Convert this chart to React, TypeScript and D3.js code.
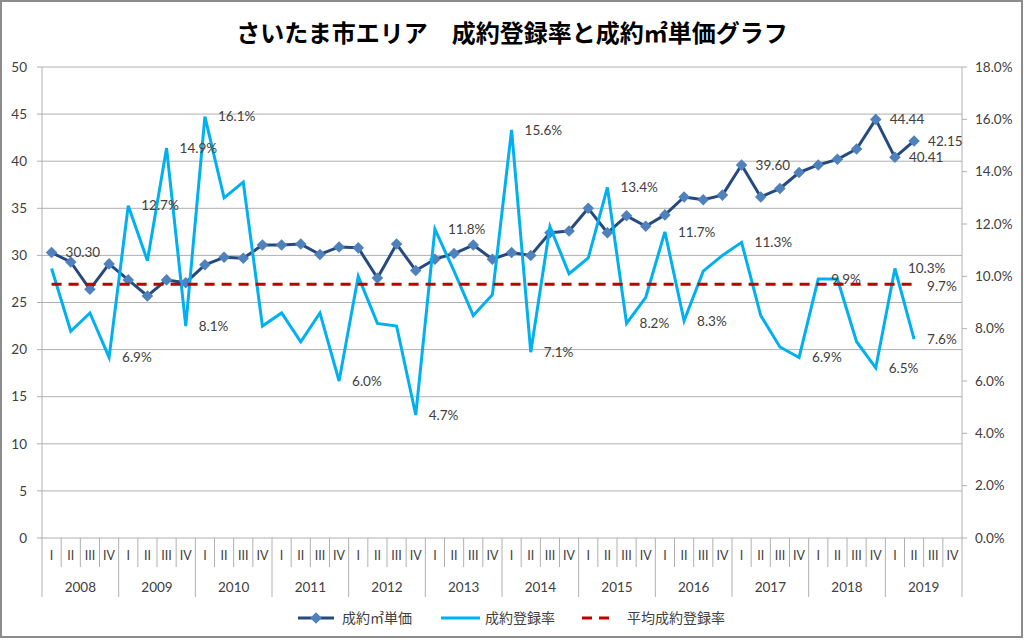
import React, { useEffect, useRef } from "react";
import * as d3 from "d3";

// quarters 2008 I .. 2019 IV
const years = ["2008", "2009", "2010", "2011", "2012", "2013", "2014", "2015", "2016", "2017", "2018", "2019"];
const quarters = ["I", "II", "III", "IV"];

// 成約㎡単価 (万円/㎡), 2008 I .. 2019 II
const unitPrice = [
  30.3, 29.3, 26.4, 29.1, 27.4, 25.7, 27.4, 27.1, 29.0, 29.8, 29.7, 31.1,
  31.1, 31.2, 30.1, 30.9, 30.8, 27.6, 31.2, 28.4, 29.6, 30.2, 31.1, 29.6,
  30.3, 30.0, 32.4, 32.6, 35.0, 32.4, 34.2, 33.1, 34.3, 36.2, 35.9, 36.4,
  39.6, 36.2, 37.1, 38.8, 39.6, 40.2, 41.3, 44.44, 40.41, 42.15,
];

// 成約登録率 (%)
const contractRate = [
  10.3, 7.9, 8.6, 6.9, 12.7, 10.6, 14.9, 8.1, 16.1, 13.0, 13.6, 8.1,
  8.6, 7.5, 8.6, 6.0, 10.0, 8.2, 8.1, 4.7, 11.8, 10.2, 8.5, 9.3,
  15.6, 7.1, 11.9, 10.1, 10.7, 13.4, 8.2, 9.2, 11.7, 8.3, 10.2, 10.8,
  11.3, 8.5, 7.3, 6.9, 9.9, 9.9, 7.5, 6.5, 10.3, 7.6,
];

// 平均成約登録率 (%)
const avgRate = 9.7;

// which points carry a data label
const priceLabelIdx = [0, 36, 43, 44, 45];
const rateLabelIdx = [3, 4, 6, 7, 8, 15, 19, 20, 24, 25, 29, 30, 32, 33, 36, 39, 40, 43, 44, 45];

const leftTicks = [0, 5, 10, 15, 20, 25, 30, 35, 40, 45, 50];
const rightTicks = [0, 2, 4, 6, 8, 10, 12, 14, 16, 18];

const W = 1024, H = 640;
const NUM = "Lato, 'Noto Sans CJK JP', sans-serif";
const JP = "'Noto Sans CJK JP', sans-serif";

export default function App() {
  const ref = useRef<SVGSVGElement | null>(null);

  useEffect(() => {
    const svg = d3.select(ref.current);
    svg.selectAll("*").remove();

    const m = { left: 42, right: 962, top: 67, bottom: 538 };
    const cats = d3.range(years.length * quarters.length);
    const x = d3.scaleBand<number>().domain(cats).range([m.left, m.right]).padding(0);
    const cx = (i: number) => (x(i) ?? 0) + x.bandwidth() / 2;
    const yL = d3.scaleLinear().domain([0, 50]).range([m.bottom, m.top]);
    const yR = d3.scaleLinear().domain([0, 18]).range([m.bottom, m.top]);

    // background + border
    svg.append("rect").attr("x", 1).attr("y", 1).attr("width", W - 3).attr("height", H - 4)
      .attr("fill", "#fff").attr("stroke", "#8c8c8c").attr("stroke-width", 2);

    // title
    svg.append("text").attr("x", 512).attr("y", 42).attr("text-anchor", "middle")
      .attr("font-family", JP).attr("font-weight", "bold").attr("font-size", 24).attr("fill", "#000")
      .text("さいたま市エリア　成約登録率と成約㎡単価グラフ");

    // gridlines + left ticks
    const g = svg.append("g");
    leftTicks.forEach((t) => {
      g.append("line").attr("x1", m.left - 5).attr("x2", m.right).attr("y1", yL(t)).attr("y2", yL(t))
        .attr("stroke", "#b0b0b0").attr("stroke-width", 1);
      g.append("text").attr("x", 27).attr("y", yL(t)).attr("dy", "0.35em").attr("text-anchor", "end")
        .attr("font-family", NUM).attr("font-size", 13.5).attr("fill", "#404040").text(String(t));
    });
    g.append("line").attr("x1", m.left).attr("x2", m.left).attr("y1", m.top).attr("y2", m.bottom)
      .attr("stroke", "#b0b0b0");

    // right axis
    g.append("line").attr("x1", m.right).attr("x2", m.right).attr("y1", m.top).attr("y2", m.bottom)
      .attr("stroke", "#b0b0b0");
    rightTicks.forEach((t) => {
      g.append("line").attr("x1", m.right).attr("x2", m.right + 5).attr("y1", yR(t)).attr("y2", yR(t))
        .attr("stroke", "#b0b0b0");
      g.append("text").attr("x", 975).attr("y", yR(t)).attr("dy", "0.35em")
        .attr("font-family", NUM).attr("font-size", 13.5).attr("fill", "#404040").text(t.toFixed(1) + "%");
    });

    // category axis (quarters + years)
    cats.forEach((i) => {
      const x0 = x(i) ?? 0;
      const isYear = i % 4 === 0;
      g.append("line").attr("x1", x0).attr("x2", x0).attr("y1", m.bottom).attr("y2", isYear ? 597 : 567)
        .attr("stroke", "#b0b0b0");
      g.append("text").attr("x", cx(i)).attr("y", 556).attr("dy", "0.35em").attr("text-anchor", "middle")
        .attr("font-family", NUM).attr("font-size", 12.5).attr("fill", "#404040").text(quarters[i % 4]);
    });
    g.append("line").attr("x1", m.right).attr("x2", m.right).attr("y1", m.bottom).attr("y2", 597)
      .attr("stroke", "#b0b0b0");
    years.forEach((yr, k) => {
      const a = x(k * 4) ?? 0;
      g.append("text").attr("x", a + x.bandwidth() * 2).attr("y", 587).attr("dy", "0.35em")
        .attr("text-anchor", "middle").attr("font-family", NUM).attr("font-size", 13.5)
        .attr("fill", "#404040").text(yr);
    });

    // price line + diamonds
    const priceLine = d3.line<number>().x((_, i) => cx(i)).y((d) => yL(d));
    svg.append("path").datum(unitPrice).attr("d", priceLine).attr("fill", "none")
      .attr("stroke", "#254A7E").attr("stroke-width", 3).attr("stroke-linejoin", "round");
    const diamond = d3.symbol().type(d3.symbolDiamond2).size(85);
    svg.append("g").selectAll("path").data(unitPrice).enter().append("path")
      .attr("d", diamond).attr("transform", (d, i) => `translate(${cx(i)},${yL(d)})`)
      .attr("fill", "#4F81BD");

    // rate line
    const rateLine = d3.line<number>().x((_, i) => cx(i)).y((d) => yR(d));
    svg.append("path").datum(contractRate).attr("d", rateLine).attr("fill", "none")
      .attr("stroke", "#00B0F0").attr("stroke-width", 3).attr("stroke-linejoin", "miter");

    // average rate (dashed)
    const avgData = contractRate.map(() => avgRate);
    svg.append("path").datum(avgData).attr("d", rateLine).attr("fill", "none")
      .attr("stroke", "#C00000").attr("stroke-width", 3).attr("stroke-dasharray", "10,7");

    // data labels
    const lab = svg.append("g").attr("font-family", NUM).attr("font-size", 13.5).attr("fill", "#404040");
    priceLabelIdx.forEach((i) => {
      lab.append("text").attr("x", cx(i) + 14).attr("y", yL(unitPrice[i])).attr("dy", "0.35em")
        .text(unitPrice[i].toFixed(2));
    });
    rateLabelIdx.forEach((i) => {
      lab.append("text").attr("x", cx(i) + 13).attr("y", yR(contractRate[i])).attr("dy", "0.35em")
        .text(contractRate[i].toFixed(1) + "%");
    });
    const last = avgData.length - 1;
    lab.append("text").attr("x", cx(last) + 13).attr("y", yR(avgRate) + 2).attr("dy", "0.35em")
      .text(avgRate.toFixed(1) + "%");

    // legend
    const lg = svg.append("g").attr("font-family", JP).attr("font-size", 14).attr("fill", "#404040");
    const ly = 618;
    lg.append("line").attr("x1", 298).attr("x2", 334).attr("y1", ly).attr("y2", ly)
      .attr("stroke", "#254A7E").attr("stroke-width", 3);
    lg.append("path").attr("d", diamond).attr("transform", `translate(316,${ly})`).attr("fill", "#4F81BD");
    lg.append("text").attr("x", 342).attr("y", ly).attr("dy", "0.35em").text("成約㎡単価");
    lg.append("line").attr("x1", 441).attr("x2", 480).attr("y1", ly).attr("y2", ly)
      .attr("stroke", "#00B0F0").attr("stroke-width", 3);
    lg.append("text").attr("x", 485).attr("y", ly).attr("dy", "0.35em").text("成約登録率");
    lg.append("line").attr("x1", 582).attr("x2", 614).attr("y1", ly).attr("y2", ly)
      .attr("stroke", "#C00000").attr("stroke-width", 3).attr("stroke-dasharray", "10,7");
    lg.append("text").attr("x", 627).attr("y", ly).attr("dy", "0.35em").text("平均成約登録率");
  }, []);

  return (
    <svg ref={ref} width={W} height={H}
      style={{ position: "absolute", left: 0, top: 0, display: "block", background: "#fff" }} />
  );
}
